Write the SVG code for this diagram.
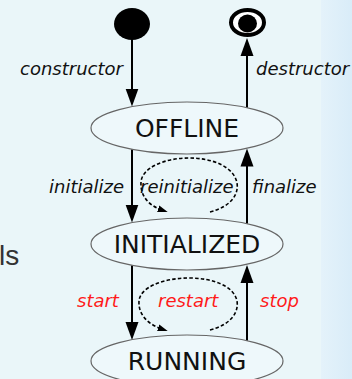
<svg xmlns="http://www.w3.org/2000/svg" width="352" height="379" viewBox="0 0 352 379">
  <defs>
    <linearGradient id="edge" x1="0" y1="0" x2="1" y2="0">
      <stop offset="0" stop-color="#e4f2fa"/>
      <stop offset="1" stop-color="#d9ecf8"/>
    </linearGradient>
    <!-- solid transition arrowhead -->
    <marker id="arrow" markerUnits="userSpaceOnUse" viewBox="0 -7 18 14" markerWidth="18" markerHeight="14" refX="10" refY="0" orient="auto">
      <path d="M0,-6.5 L18,0 L0,6.5 z" fill="#000"/>
    </marker>
    <!-- small arrowhead for self-loops -->
    <marker id="loopArrow" markerUnits="userSpaceOnUse" viewBox="0 -4 10 8" markerWidth="10" markerHeight="8" refX="4" refY="0" orient="auto">
      <path d="M0,-3.5 L10,0 L0,3.5 z" fill="#000"/>
    </marker>
  </defs>
  <style>
    .state { fill: #eef8fb; stroke: #666; stroke-width: 1.2; }
    .stateName { font-family: "DejaVu Sans", Verdana, sans-serif; font-size: 25px; fill: #111; text-anchor: middle; }
    .edge { stroke: #000; stroke-width: 2; fill: none; marker-end: url(#arrow); }
    .loop { stroke: #000; stroke-width: 1.6; fill: none; stroke-dasharray: 3.5 2.2; marker-end: url(#loopArrow); }
    .label { font-family: "DejaVu Sans", Verdana, sans-serif; font-style: italic; font-size: 18px; fill: #111; }
    .red { fill: #ff1a1a; }
  </style>

  <!-- slide background -->
  <rect x="0" y="0" width="352" height="379" fill="#eaf6f9"/>
  <rect x="321" y="0" width="31" height="379" fill="url(#edge)"/>
  <text x="-1" y="265" font-family="Liberation Sans, Arial, sans-serif" font-size="28" fill="#333">ls</text>

  <!-- transitions -->
  <g id="connectors">
    <line class="edge" x1="132" y1="39" x2="132" y2="98.5"/>
    <line class="edge" x1="247" y1="107.7" x2="247" y2="46"/>
    <line class="edge" x1="132" y1="149.3" x2="132" y2="214.5"/>
    <line class="edge" x1="247" y1="223.7" x2="247" y2="156.5"/>
    <line class="edge" x1="132" y1="265.3" x2="132" y2="332"/>
    <line class="edge" x1="247" y1="340.7" x2="247" y2="273"/>
    <path id="reinitLoop" class="loop" d="M210,212 C230,207 239,195 237,183 C234,167 213,158 189,158 C164,158 142,168 141,182 C140,197 150,206 162,210"/>
    <path id="restartLoop" class="loop" d="M210,330 C230,325 239,313 237,301 C234,286 213,278 189,278 C164,278 140,287 139,301 C138,316 150,325 162,329"/>
  </g>

  <!-- pseudo states -->
  <g id="initial">
    <ellipse cx="132" cy="24" rx="18" ry="16" fill="#000"/>
  </g>
  <g id="final">
    <ellipse cx="247.5" cy="22.5" rx="16.5" ry="12.5" fill="#fff" stroke="#000" stroke-width="4"/>
    <ellipse cx="247.5" cy="23.5" rx="9.5" ry="9" fill="#000"/>
  </g>

  <!-- states -->
  <g id="offline">
    <ellipse class="state" cx="187" cy="128" rx="96" ry="26"/>
    <text class="stateName" x="187" y="137">OFFLINE</text>
  </g>
  <g id="initialized">
    <ellipse class="state" cx="187" cy="244" rx="96" ry="26"/>
    <text class="stateName" x="187" y="253">INITIALIZED</text>
  </g>
  <g id="running">
    <ellipse class="state" cx="187" cy="361" rx="96" ry="26"/>
    <text class="stateName" x="187" y="370">RUNNING</text>
  </g>

  <!-- transition labels -->
  <g id="labels">
    <text class="label" x="20" y="75">constructor</text>
    <text class="label" x="256" y="75">destructor</text>
    <text class="label" x="49" y="193">initialize</text>
    <text class="label" x="140" y="193">reinitialize</text>
    <text class="label" x="252" y="193">finalize</text>
    <text class="label red" x="77" y="307">start</text>
    <text class="label red" x="158" y="307">restart</text>
    <text class="label red" x="260" y="307">stop</text>
  </g>
</svg>
